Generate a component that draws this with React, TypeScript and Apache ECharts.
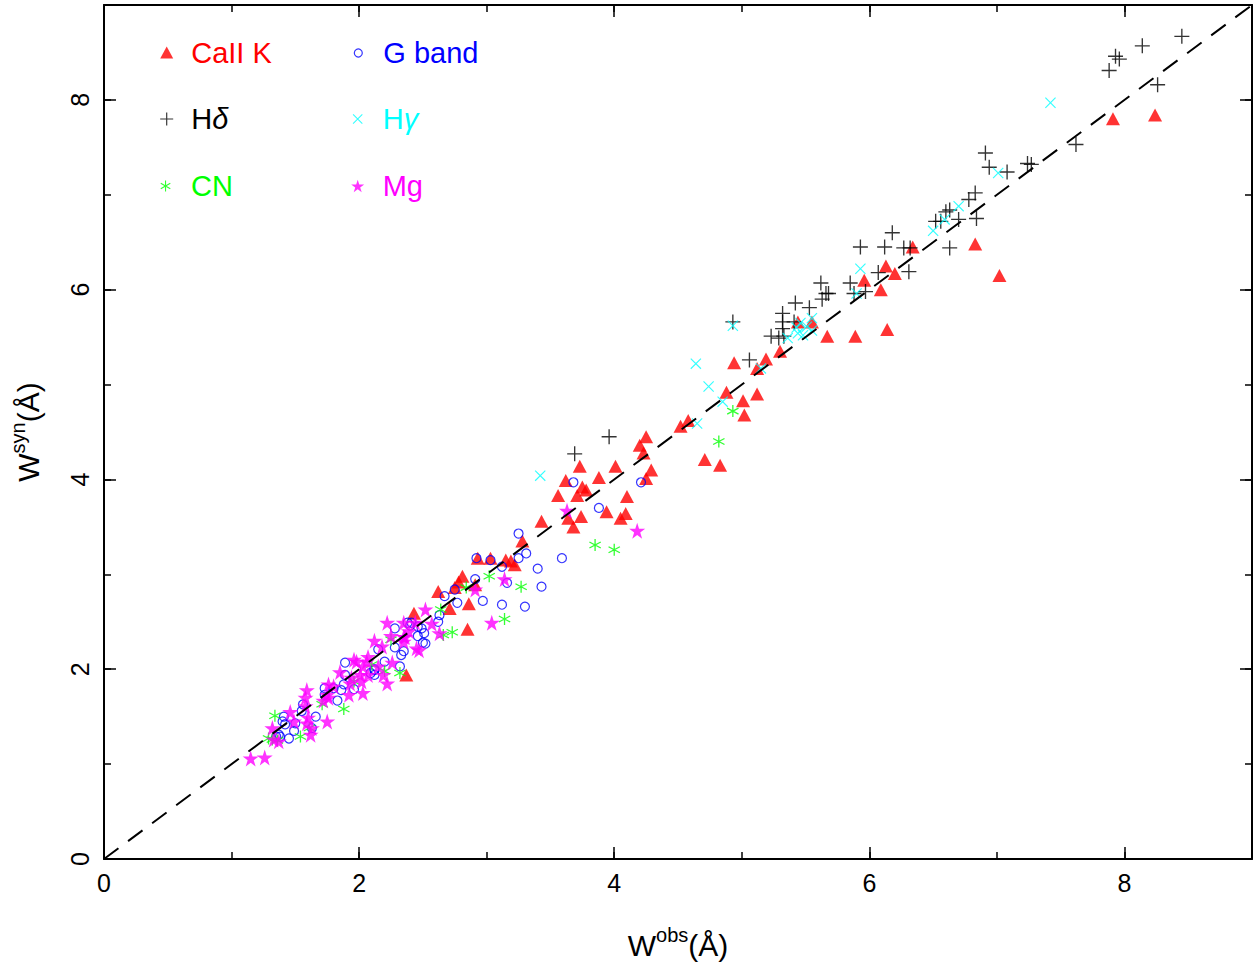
import React, { useEffect, useRef } from 'react';
import * as echarts from 'echarts';

// ---------- data (W_obs, W_syn) ----------
const caIIK: number[][] = [
  [7.91, 7.8], [8.24, 7.84], [6.83, 6.48], [7.02, 6.15], [6.34, 6.45], [6.14, 5.58], [5.89, 5.51], [5.67, 5.51],
  [6.13, 6.25], [6.2, 6.17], [6.09, 6.0], [5.96, 6.1], [5.44, 5.66], [5.55, 5.66], [5.3, 5.35], [5.19, 5.27],
  [5.12, 5.17], [4.94, 5.23], [4.88, 4.92], [5.01, 4.83], [5.12, 4.9], [5.02, 4.68], [4.58, 4.62], [4.52, 4.56],
  [4.71, 4.21], [4.83, 4.15], [4.25, 4.45], [4.2, 4.36], [4.23, 4.28], [4.29, 4.1], [4.25, 4.01], [4.01, 4.14],
  [3.88, 4.02], [3.73, 4.14], [3.62, 3.99], [3.75, 3.92], [3.78, 3.89], [3.56, 3.83], [3.71, 3.83], [4.1, 3.82],
  [3.94, 3.66], [3.74, 3.61], [4.05, 3.59], [4.09, 3.64], [3.64, 3.59], [3.68, 3.5], [3.43, 3.56], [3.28, 3.35],
  [2.93, 3.17], [3.03, 3.17], [3.15, 3.15], [3.19, 3.14], [3.22, 3.1], [2.81, 2.98], [2.78, 2.92], [2.91, 2.89],
  [2.75, 2.86], [2.62, 2.82], [2.71, 2.64], [2.86, 2.69], [2.43, 2.59], [2.85, 2.42], [2.37, 1.94],
];

const gBand: number[][] = [
  [3.68, 3.97], [4.21, 3.97], [3.88, 3.7], [3.31, 3.22], [3.59, 3.17], [3.25, 3.43], [3.4, 3.06], [3.43, 2.87],
  [3.3, 2.66], [3.12, 2.68], [2.97, 2.72], [3.16, 2.91], [3.12, 3.08], [3.25, 3.17], [2.92, 3.17], [3.03, 3.15],
  [2.91, 2.95], [2.75, 2.84], [2.67, 2.77], [2.77, 2.7], [2.63, 2.57], [2.62, 2.5], [2.46, 2.45], [2.46, 2.35],
  [2.5, 2.28], [2.35, 2.19], [2.33, 2.15], [2.38, 2.49], [2.41, 2.49], [2.15, 2.21], [2.2, 2.08], [1.89, 2.07],
  [2.12, 2.0], [2.09, 1.96], [2.12, 1.94], [2.32, 2.03], [1.89, 1.94], [1.88, 1.84], [1.8, 1.8], [1.96, 1.79],
  [1.86, 1.78], [1.83, 1.67], [1.73, 1.73], [1.73, 1.8], [1.66, 1.5], [1.63, 1.38], [1.56, 1.63], [1.55, 1.56],
  [1.49, 1.35], [1.45, 1.27], [1.41, 1.5], [1.4, 1.45], [1.42, 1.42], [1.37, 1.31], [1.38, 1.29], [1.35, 1.29],
  [1.5, 1.43], [2.28, 2.43], [2.4, 2.46], [2.49, 2.43], [2.51, 2.38], [2.52, 2.27], [2.28, 2.23], [2.12, 1.99],
];

const hDelta: number[][] = [
  [8.45, 8.67], [8.14, 8.57], [7.93, 8.46], [7.96, 8.43], [7.88, 8.31], [8.26, 8.16], [7.62, 7.53], [7.24, 7.33],
  [7.27, 7.32], [7.08, 7.24], [6.91, 7.44], [6.94, 7.29], [6.83, 7.02], [6.78, 6.95], [6.84, 6.75], [6.7, 6.74],
  [6.63, 6.84], [6.6, 6.82], [6.56, 6.72], [6.52, 6.72], [6.63, 6.44], [6.18, 6.6], [6.12, 6.45], [5.93, 6.45],
  [6.27, 6.44], [6.32, 6.44], [6.31, 6.19], [6.07, 6.18], [5.62, 6.07], [5.68, 5.96], [5.66, 5.96], [5.63, 5.9],
  [5.85, 6.07], [5.88, 5.96], [5.97, 5.98], [5.42, 5.86], [5.53, 5.81], [5.32, 5.75], [5.32, 5.66], [5.41, 5.66],
  [5.23, 5.51], [5.33, 5.51], [4.93, 5.66], [5.06, 5.26], [5.29, 5.49], [5.32, 5.59], [3.96, 4.45], [3.69, 4.27],
];

const hGamma: number[][] = [
  [7.42, 7.97], [7.01, 7.23], [6.7, 6.88], [6.59, 6.74], [6.5, 6.62], [5.93, 6.22], [5.9, 5.96], [5.55, 5.7],
  [5.46, 5.65], [5.43, 5.6], [5.51, 5.61], [5.48, 5.52], [5.55, 5.57], [5.36, 5.49], [5.44, 5.54], [5.15, 5.17],
  [4.93, 5.62], [4.64, 5.22], [4.74, 4.98], [4.85, 4.82], [4.65, 4.59], [3.42, 4.04],
];

const cn: number[][] = [
  [4.93, 4.72], [4.82, 4.4], [3.85, 3.31], [4.0, 3.26], [3.02, 2.98], [3.27, 2.87], [2.84, 2.86], [3.14, 2.53],
  [2.73, 2.39], [2.64, 2.63], [2.66, 2.36], [2.32, 1.96], [2.25, 2.31], [1.96, 1.87], [2.2, 1.98], [1.34, 1.51],
  [1.29, 1.27], [1.32, 1.26], [1.36, 1.25], [1.54, 1.29], [1.88, 1.58], [1.61, 1.38], [1.71, 1.63], [2.1, 2.05],
];

const mg: number[][] = [
  [3.63, 3.67], [4.18, 3.46], [3.14, 2.95], [2.91, 2.84], [3.04, 2.49], [2.52, 2.63], [2.57, 2.48], [2.63, 2.38],
  [2.35, 2.49], [2.39, 2.4], [2.35, 2.34], [2.45, 2.22], [2.47, 2.2], [2.44, 2.49], [2.22, 2.49], [2.25, 2.35],
  [2.35, 2.29], [2.36, 2.34], [2.18, 2.24], [2.07, 2.13], [2.06, 2.08], [1.96, 2.1], [1.98, 2.08], [2.03, 2.03],
  [2.15, 2.03], [2.19, 1.94], [2.01, 1.94], [2.07, 1.94], [1.94, 1.91], [1.93, 1.85], [2.22, 1.85], [2.02, 1.87],
  [2.03, 1.75], [1.76, 1.84], [1.8, 1.82], [1.75, 1.73], [1.76, 1.7], [1.59, 1.78], [1.58, 1.7], [1.46, 1.55],
  [1.49, 1.45], [1.6, 1.49], [1.59, 1.43], [1.62, 1.31], [1.63, 1.38], [1.32, 1.38], [1.75, 1.45], [1.92, 1.73],
  [1.58, 1.61], [1.33, 1.26], [1.37, 1.24], [1.15, 1.06], [1.26, 1.07], [1.72, 1.67], [2.26, 2.07], [2.12, 2.3],
  [1.85, 1.97],
];

const oneToOne: number[][] = [[0, 0], [9, 9]];

const seriesNames = ['CaII K', 'G band', 'Hδ', 'Hγ', 'CN', 'Mg'];
const axisMin = 0;
const axisMax = 9;
const majorStep = 2;
const minorStep = 1;

// ---------- symbols ----------
const PLUS = 'path://M0,9.1L20,9.1L20,10.9L0,10.9Z M9.1,0L10.9,0L10.9,20L9.1,20Z';
const CROSS = 'path://M0,1.5L1.5,0L20,18.5L18.5,20Z M18.5,0L20,1.5L1.5,20L0,18.5Z';
const ASTER =
  'path://M9,0L11,0L11,20L9,20Z M0.84,5.866L1.84,4.134L19.16,14.134L18.16,15.866Z M1.84,15.866L0.84,14.134L18.16,4.134L19.16,5.866Z';
const STAR =
  'path://M50,0L61.2,34.5L97.6,34.5L68.2,55.9L79.4,90.5L50,69.1L20.6,90.5L31.8,55.9L2.4,34.5L38.8,34.5Z';

const FONT = '"Liberation Sans", Arial, Helvetica, sans-serif';

export default function App() {
  const ref = useRef<HTMLDivElement>(null);

  useEffect(() => {
    if (!ref.current) return;
    const chart = echarts.init(ref.current, undefined, { renderer: 'svg' });

    const nameRich = {
      m: { fontSize: 30, lineHeight: 40, fontFamily: FONT, color: '#000' },
      s: { fontSize: 20, lineHeight: 20, verticalAlign: 'top', fontFamily: FONT, color: '#000' },
    };

    const mkAxis = (position: string, step: number, len: number, main: boolean, extra: any = {}) => ({
      type: 'value',
      position,
      min: axisMin,
      max: axisMax,
      interval: step,
      gridIndex: 0,
      axisLine: { show: main, onZero: false, lineStyle: { color: '#000', width: 2 } },
      axisTick: { show: true, inside: true, length: len, lineStyle: { color: '#000', width: 1.5 } },
      axisLabel: { show: false },
      splitLine: { show: false },
      ...extra,
    });

    const xAxes = [
      mkAxis('bottom', majorStep, 12, true, {
        axisLabel: { show: true, margin: 11, fontSize: 25, color: '#000', fontFamily: FONT, showMaxLabel: false },
        name: '{m|W}{s|obs}{m|(Å)}',
        nameLocation: 'middle',
        nameGap: 66,
        nameTextStyle: { rich: nameRich },
      }),
      mkAxis('bottom', minorStep, 7, false),
      mkAxis('top', majorStep, 12, true),
      mkAxis('top', minorStep, 7, false),
    ];
    const yAxes = [
      mkAxis('left', majorStep, 12, true, {
        axisLabel: { show: true, rotate: 90, margin: 12, fontSize: 25, color: '#000', fontFamily: FONT, showMaxLabel: false },
        name: '{m|W}{s|syn}{m|(Å)}',
        nameLocation: 'middle',
        nameGap: 56,
        nameTextStyle: { rich: nameRich },
      }),
      mkAxis('left', minorStep, 7, false),
      mkAxis('right', majorStep, 12, true),
      mkAxis('right', minorStep, 7, false),
    ];

    const colors = ['#ff0000', '#0000ff', '#000000', '#00ffff', '#00ff00', '#ff00ff'];
    const symbols = ['triangle', 'circle', PLUS, CROSS, ASTER, STAR];
    const sizes: any[] = [[14, 13], 9, 15, 11, 12, 16];
    const datas = [caIIK, gBand, hDelta, hGamma, cn, mg];

    const scatter = seriesNames.map((name, i) => ({
      name,
      type: 'scatter',
      data: datas[i],
      symbol: symbols[i],
      symbolSize: sizes[i],
      itemStyle:
        i === 1
          ? { color: 'rgba(0,0,0,0)', borderColor: colors[i], borderWidth: 1.2 }
          : { color: colors[i] },
      silent: true,
      emphasis: { disabled: true },
      z: 2 + i,
    }));

    // legend layout: [iconCenterX, rowCenterY, iconW, iconH, textPadLeft]
    const legendLayout = [
      [166.7, 52.5, 13, 12, 13],
      [357.7, 53, 8, 8, 16],
      [166.7, 119, 13, 13, 13],
      [357.7, 119, 10, 10, 15],
      [166, 186, 11, 11, 15],
      [357.7, 186, 13, 13, 13.5],
    ];
    const legendRich = (c: string) => ({
      n: { fontSize: 29, lineHeight: 30, fontFamily: FONT, color: c },
      g: { fontSize: 29, lineHeight: 30, fontFamily: FONT, color: c, fontStyle: 'italic' },
    });
    const legends = seriesNames.map((name, i) => {
      const [cx, cy, w, h, pad] = legendLayout[i];
      return {
        show: true,
        orient: 'vertical',
        left: cx - w / 2,
        top: cy - 15,
        padding: 0,
        itemWidth: w,
        itemHeight: h,
        selectedMode: false,
        formatter: (n: string) =>
          n === 'Hδ' ? '{n|H}{g|δ}' : n === 'Hγ' ? '{n|H}{g|γ}' : `{n|${n}}`,
        textStyle: { fontSize: 29, lineHeight: 30, fontFamily: FONT, color: colors[i], padding: [0, 0, 0, pad], rich: legendRich(colors[i]) },
        data: [
          {
            name,
            icon: symbols[i],
            itemStyle:
              i === 1
                ? { color: 'rgba(0,0,0,0)', borderColor: colors[i], borderWidth: 1.2 }
                : { color: colors[i], borderWidth: 0 },
          },
        ],
      };
    });

    chart.setOption({
      animation: false,
      backgroundColor: '#ffffff',
      grid: { left: 102, right: 6, top: 5, bottom: 110, containLabel: false },
      xAxis: xAxes,
      yAxis: yAxes,
      legend: legends,
      series: [
        ...scatter,
        {
          name: 'one-to-one',
          type: 'line',
          data: oneToOne,
          symbol: 'none',
          lineStyle: { color: '#000', width: 2, type: [18, 12] },
          silent: true,
          z: 20,
        },
      ],
    } as any);

    return () => chart.dispose();
  }, []);

  return (
    <div
      ref={ref}
      style={{ position: 'fixed', left: 0, top: 0, width: '1258px', height: '969px', background: '#fff' }}
    />
  );
}
